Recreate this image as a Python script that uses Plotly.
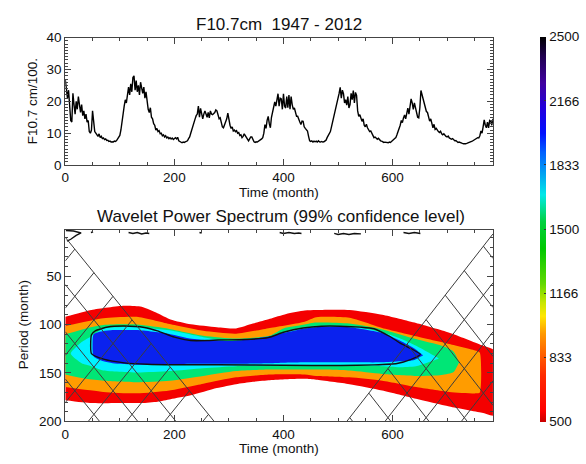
import plotly.graph_objects as go

# ---------------- data: F10.7 monthly series (month index, flux/100 scaled) -------------
f107 = [
    (0, 26.8), (2, 24), (4, 21), (6, 23.5), (8, 19), (10, 14), (12, 13.5), (14, 22.5), (16, 19),
    (18, 16), (20, 20), (22, 17.5), (24, 21.5), (26, 18), (28, 16.5), (30, 19), (32, 15.5),
    (34, 17), (36, 14.5), (38, 16), (40, 13.5), (42, 14), (44, 10.5), (46, 10), (48, 11),
    (50, 17), (52, 12.5), (54, 10.5), (56, 10), (58, 9.5), (60, 9), (62, 9.8), (64, 8.6),
    (66, 9), (68, 8.3), (70, 8.5), (72, 8), (74, 8.2), (76, 7.7), (78, 7.8), (80, 7.4),
    (82, 7.5), (84, 7.2), (86, 7.3), (88, 7.2), (90, 7.5), (92, 7.4), (94, 7.7), (96, 8.2),
    (98, 8.5), (100, 9.3), (102, 11), (104, 14.5), (106, 16), (108, 18.5), (110, 20.5),
    (112, 19.5), (114, 22.5), (116, 24.5), (118, 22), (120, 25.5), (122, 23), (124, 27.5),
    (126, 28), (128, 23.5), (130, 26.5), (132, 23), (134, 25), (136, 22), (138, 26),
    (140, 23.5), (142, 22.5), (144, 24.5), (146, 21), (148, 23), (150, 19.5), (152, 17.5),
    (154, 16.5), (156, 18), (158, 15), (160, 14.5), (162, 13), (164, 12.5), (166, 11),
    (168, 11.5), (170, 10.5), (172, 10.8), (174, 9.8), (176, 10), (178, 9.2), (180, 9.5),
    (182, 8.8), (184, 9.2), (186, 8.5), (188, 8.8), (190, 8.3), (192, 8.6), (194, 8.2),
    (196, 8.5), (198, 8), (200, 8.3), (202, 8.6), (204, 8.2), (206, 8.7), (208, 7.6),
    (210, 7.3), (212, 7.1), (214, 7), (216, 7.2), (218, 7.1), (220, 7.3), (222, 7.5),
    (224, 7.6), (226, 8.3), (228, 8.8), (230, 10), (232, 11.2), (234, 12.5), (236, 14),
    (238, 14.5), (240, 15.5), (242, 16), (244, 18.5), (246, 15), (248, 17.8), (250, 15.5),
    (252, 14.5), (254, 16), (256, 17), (258, 16), (260, 15), (262, 16.5), (264, 14.8),
    (266, 17), (268, 16), (270, 15.8), (272, 16.2), (274, 16.5), (276, 17.3), (278, 17),
    (280, 15.8), (282, 14.5), (284, 14.8), (286, 13), (288, 12), (290, 11.7), (292, 12.5),
    (294, 13.5), (296, 14.5), (298, 16.3), (300, 13.5), (302, 12.5), (304, 11.5), (306, 12),
    (308, 10.7), (310, 11), (312, 10.5), (314, 10.8), (316, 10), (318, 10.2), (320, 9.3),
    (322, 9.5), (324, 8.6), (326, 9), (328, 9.8), (330, 9.2), (332, 8.6), (334, 8),
    (336, 7.6), (338, 8.2), (340, 8.8), (342, 8.8), (344, 7.8), (346, 7.3), (348, 7.1),
    (350, 7.3), (352, 7.2), (354, 7.4), (356, 7.6), (358, 7.8), (360, 8.2), (362, 8.6),
    (364, 10), (366, 12.7), (368, 11.5), (370, 14), (372, 15.3), (374, 13), (376, 11.7),
    (378, 15), (380, 16.8), (382, 18.5), (384, 19.8), (386, 18.5), (388, 21), (390, 22.4),
    (392, 18.5), (394, 21), (396, 20.8), (398, 17.5), (400, 22.4), (402, 18.5), (404, 17.9),
    (406, 21.5), (408, 18), (410, 22), (412, 17.5), (414, 21.5), (416, 19), (418, 17.5),
    (420, 17.9), (422, 16), (424, 15.3), (426, 15.3), (428, 14), (430, 13.5), (432, 12.7),
    (434, 13.8), (436, 13.7), (438, 12), (440, 11.5), (442, 11), (444, 10.7), (446, 9),
    (448, 7.6), (450, 7.4), (452, 7.6), (454, 7.2), (456, 7.5), (458, 7.3), (460, 7.5),
    (462, 7.2), (464, 7.6), (466, 7.3), (468, 7.2), (470, 7.4), (472, 7.2), (474, 7.3),
    (476, 7.5), (478, 7.8), (480, 8.6), (482, 9.2), (484, 9.8), (486, 10.5), (488, 12),
    (490, 13.5), (492, 14.8), (494, 15.7), (496, 18), (498, 19.5), (500, 20.8), (502, 22.5),
    (504, 24.4), (506, 21), (508, 23.5), (510, 22.4), (512, 19.5), (514, 20.5), (516, 18.8),
    (518, 21.5), (520, 17.9), (522, 19), (524, 22.5), (526, 20.5), (528, 23.4), (530, 19.5),
    (532, 22.8), (534, 21.9), (536, 17), (538, 15.3), (540, 15.8), (542, 14.2), (544, 13.7),
    (546, 14.5), (548, 12.5), (550, 12), (552, 12.8), (554, 11.7), (556, 11), (558, 10.5),
    (560, 10.7), (562, 9.8), (564, 9.3), (566, 8.6), (568, 8.8), (570, 8.3), (572, 8.1),
    (574, 8.4), (576, 7.9), (578, 7.6), (580, 7.5), (582, 7.3), (584, 7.1), (586, 7.2),
    (588, 7.1), (590, 7.2), (592, 7), (594, 7.2), (596, 7.1), (598, 7.4), (600, 7.6),
    (602, 8), (604, 8.3), (606, 8.6), (608, 9.5), (610, 10.5), (612, 11), (614, 12.5),
    (616, 14), (618, 13.3), (620, 14.8), (622, 15.7), (624, 14.5), (626, 16.5), (628, 17.9),
    (630, 16), (632, 18.5), (634, 20.8), (636, 19.5), (638, 17.5), (640, 19.5), (642, 17.9),
    (644, 16), (646, 15), (648, 14.8), (650, 18), (652, 23.4), (654, 22), (656, 20.8),
    (658, 19), (660, 18.5), (662, 16.8), (664, 16.5), (666, 15), (668, 13.8), (670, 14.5),
    (672, 12.5), (674, 11.7), (676, 12.8), (678, 11.2), (680, 11.5), (682, 10.8), (684, 10.5),
    (686, 10.2), (688, 10.6), (690, 9.8), (692, 9.5), (694, 9.8), (696, 9.2), (698, 9),
    (700, 8.8), (702, 9.1), (704, 8.5), (706, 8.3), (708, 8.1), (710, 8.3), (712, 7.8),
    (714, 7.6), (716, 7.7), (718, 7.3), (720, 7.1), (722, 7.2), (724, 7), (726, 6.9),
    (728, 6.8), (730, 6.7), (732, 6.6), (734, 6.7), (736, 6.8), (738, 6.9), (740, 7),
    (742, 7.1), (744, 7.3), (746, 7.5), (748, 7.7), (750, 7.9), (752, 8.1), (754, 8.3),
    (756, 8.6), (758, 8.5), (760, 9.2), (762, 10.7), (764, 10), (766, 12), (768, 14.2),
    (770, 12.5), (772, 11.7), (774, 13.5), (776, 11.7), (778, 14), (780, 13.8), (782, 12.5),
    (784, 14.5),
]
f107_month = [m for m, _ in f107]
f107_value = [v for _, v in f107]

# ---------------- data: wavelet power bands (period boundaries vs time) -------------------
red_t   = [0, 48, 108, 140, 169, 193, 230, 278, 313, 344, 375, 405, 439, 460, 521, 581, 643, 704, 764, 790]
red_top = [92, 85, 80.7, 81.7, 88.3, 94.7, 99.7, 102.7, 104, 99, 94, 89, 85.5, 85, 85, 90, 98.5, 108.5, 121.5, 128]
red_bot = [178, 181, 181, 181, 179.6, 177, 173, 165.5, 161.5, 159, 157.5, 156.5, 156, 157, 161.5, 168, 176.5, 184.5, 191, 194]

orange_t   = [0, 70, 131, 191, 253, 313, 375, 439, 460, 521, 581, 643, 704, 753, 760]
orange_top = [101.5, 93.5, 92, 99.5, 106.5, 109.5, 103.5, 97, 92.5, 93, 103.5, 112, 120, 127, 129]
orange_bot = [164.5, 169.5, 171, 168, 161, 154.5, 151.5, 151.5, 153, 154.5, 158, 164.5, 169.5, 171, 170]

green_t   = [0, 38, 70, 131, 191, 253, 313, 375, 400, 439, 460, 521, 581, 643, 690, 712, 722]
green_top = [110, 104, 100.5, 100, 104.5, 111.5, 114.5, 111.5, 104, 100, 98, 99, 105, 115, 122, 128, 139]
green_bot = [151.5, 156, 158, 159.5, 158, 153, 148, 146.5, 146.5, 146.5, 146.5, 147.5, 151, 153, 152, 149, 139]

cyan_t   = [10, 30, 48, 70, 131, 191, 253, 313, 375, 400, 439, 460, 521, 581, 612, 643, 685]
cyan_top = [130, 118, 112, 104, 102.5, 106, 113, 118, 113, 108, 103, 101.5, 101.5, 108, 114, 122, 135]
cyan_bot = [130, 140, 143, 147.5, 149.5, 148, 145, 143, 142.5, 142.5, 142, 142, 142, 143, 144, 143, 135]

blue_t   = [50, 52, 70, 87, 131, 191, 232, 280, 313, 375, 400, 439, 460, 521, 581, 614, 640, 656]
blue_top = [120, 110, 106.7, 105.7, 105.7, 109.7, 114.7, 116.7, 116.7, 112, 108.7, 104, 102.7, 102.7, 108.7, 116.7, 124.7, 131.7]
blue_bot = [125, 133, 138, 140, 141.5, 141, 140.5, 140.5, 140.5, 140, 139.5, 139, 139, 139, 139, 138, 136.5, 131.7]

# 99% confidence contour (closed)
conf_t = [48, 55, 78, 108, 145, 169, 200, 230, 260, 280, 330, 372, 400, 436, 470, 505, 541, 566, 596, 614, 651,
          633, 608, 566, 505, 400, 280, 200, 150, 108, 72, 48, 48]
conf_p = [110.5, 106.5, 102.5, 101.5, 103, 106.5, 113, 116.5, 116.5, 116, 115.5, 113.5, 108, 103.5, 101.7, 101.7, 102.7, 104.3, 112.6, 119.2, 130.7,
          136.2, 140.2, 141.6, 142.3, 142, 141.5, 141.5, 141, 139.5, 136, 130, 110.5]

# small spurious contours near the shortest periods
noise = [
    ([1, 15, 29, 20, 10, 3], [3, 3.5, 5.5, 8, 12, 14]),
    ([47, 51], [5, 4.5]),
    ([116, 124, 132, 140, 148, 154], [5, 6, 5, 6.5, 5.5, 6]),
    ([246, 250], [5, 5.5]),
    ([393, 400, 410, 420, 428, 433], [5, 6, 5, 6, 5.5, 6]),
    ([493, 500, 510, 520, 530, 542], [6, 7, 6, 7, 6, 6.5]),
    ([620, 630, 640, 651], [5, 6, 5, 6]),
]

# cone of influence edges (time, period)
coi_left_t, coi_left_p = [0, 273], [10, 200]
coi_right_t, coi_right_p = [784, 516], [6.5, 200]

band_colors = ['#f40000', '#ff9c00', '#00e676', '#00f2ff', '#0a22ee']
cbar_ticks = [500, 833, 1166, 1500, 1833, 2166, 2500]
cbar_scale = [
    [0.0, '#c80000'], [0.03, '#ff0000'], [0.12, '#ff2a00'], [0.17, '#ff5a00'], [0.23, '#ff9a00'],
    [0.275, '#ffe600'], [0.31, '#c8e600'], [0.36, '#60d800'], [0.45, '#00c800'], [0.52, '#00d040'],
    [0.56, '#00e0a0'], [0.59, '#00e8e8'], [0.64, '#00a8f0'], [0.70, '#0060ff'], [0.75, '#0010ff'],
    [0.81, '#2000e0'], [0.88, '#4000a0'], [0.95, '#200050'], [1.0, '#000000'],
]

XMAX = 784
W, H = 586, 464
FONT = 'Liberation Sans, Arial, Helvetica, sans-serif'
AX = '#444444'

fig = go.Figure()

# top panel line
fig.add_trace(go.Scatter(x=f107_month, y=f107_value, mode='lines',
                         line=dict(color='black', width=1.4), xaxis='x', yaxis='y',
                         hoverinfo='skip', showlegend=False))

# filled bands
bands = [(red_t, red_top, red_bot), (orange_t, orange_top, orange_bot),
         (green_t, green_top, green_bot), (cyan_t, cyan_top, cyan_bot),
         (blue_t, blue_top, blue_bot)]
for (bt, btop, bbot), col in zip(bands, band_colors):
    xs = list(bt) + list(bt)[::-1]
    ys = list(btop) + list(bbot)[::-1]
    fig.add_trace(go.Scatter(x=xs, y=ys, mode='lines', fill='toself', fillcolor=col,
                             line=dict(width=0, shape='spline', smoothing=0.6, color=col),
                             xaxis='x2', yaxis='y2', hoverinfo='skip', showlegend=False))

# confidence contour
fig.add_trace(go.Scatter(x=conf_t, y=conf_p, mode='lines',
                         line=dict(color='#111111', width=1.4, shape='spline', smoothing=0.5),
                         xaxis='x2', yaxis='y2', hoverinfo='skip', showlegend=False))

# noise contours
for nt, np_ in noise:
    fig.add_trace(go.Scatter(x=nt, y=np_, mode='lines', line=dict(color='#111111', width=1.4),
                             xaxis='x2', yaxis='y2', hoverinfo='skip', showlegend=False))


# cone of influence hatching
def clip_line(poly, m, c_t, c_p):
    pts = []
    n = len(poly)
    for i in range(n):
        t1, p1 = poly[i]
        t2, p2 = poly[(i + 1) % n]
        f1 = p1 - c_p - m * (t1 - c_t)
        f2 = p2 - c_p - m * (t2 - c_t)
        if f1 == f2:
            continue
        if (f1 <= 0 <= f2) or (f2 <= 0 <= f1):
            a = f1 / (f1 - f2)
            pts.append((t1 + a * (t2 - t1), p1 + a * (p2 - p1)))
    if len(pts) < 2:
        return None
    pts.sort()
    return pts[0], pts[-1]


hx, hy = [], []
spacing_t = 70.0

def add_hatch(edge_t, edge_p):
    t0, p0 = edge_t[0], edge_p[0]
    t1, p1 = edge_t[1], edge_p[1]
    m = (p1 - p0) / (t1 - t0)  # dp/dt along edge
    poly = [(t0, p0), (t1, p1), (t0, p1)]
    step = abs(m) * spacing_t
    for k in range(0, 30):
        seg = clip_line(poly, m, t0, p0 + k * step)
        if seg:
            hx.extend([seg[0][0], seg[1][0], None]); hy.extend([seg[0][1], seg[1][1], None])
        seg = clip_line(poly, -m, t0, p0 + (k + 0.5) * step)
        if seg:
            hx.extend([seg[0][0], seg[1][0], None]); hy.extend([seg[0][1], seg[1][1], None])

add_hatch(coi_left_t, coi_left_p)
add_hatch(coi_right_t, coi_right_p)

fig.add_trace(go.Scatter(x=hx, y=hy, mode='lines', line=dict(color='#3c3c3c', width=1),
                         xaxis='x2', yaxis='y2', hoverinfo='skip', showlegend=False,
                         connectgaps=False))

# colorbar carrier
fig.add_trace(go.Scatter(x=[-500, -500], y=[100, 100], mode='markers', xaxis='x2', yaxis='y2',
                         marker=dict(size=1, color=[500, 2500], cmin=500, cmax=2500,
                                     colorscale=cbar_scale, showscale=True,
                                     colorbar=dict(x=539.5 / W, xanchor='left', xpad=0, ypad=0,
                                                   y=1 - 229.5 / H, yanchor='middle',
                                                   len=(428.3 - 30.7) / H, lenmode='fraction',
                                                   thickness=6, thicknessmode='pixels',
                                                   outlinewidth=0, tickvals=cbar_ticks,
                                                   ticktext=[str(v) for v in cbar_ticks],
                                                   ticks='inside', ticklen=2, tickcolor='#333',
                                                   tickfont=dict(size=13.5, color='#111', family=FONT))),
                         hoverinfo='skip', showlegend=False))

axis_common = dict(showline=True, linecolor=AX, linewidth=1, mirror='ticks', ticks='inside',
                   ticklen=6, tickcolor=AX, showgrid=False, zeroline=False,
                   tickfont=dict(size=13.5, color='#111', family=FONT))

xdom = [61.7 / W, 492.3 / W]
fig.update_layout(
    width=W, height=H, margin=dict(l=0, r=0, t=0, b=0),
    paper_bgcolor='white', plot_bgcolor='white', showlegend=False,
    font=dict(family=FONT, color='#111'),
    xaxis=dict(domain=xdom, range=[0, XMAX], anchor='y', tickvals=[0, 200, 400, 600],
               minor=dict(tick0=0, dtick=50, ticks='inside', ticklen=3, tickcolor=AX),
               **axis_common),
    yaxis=dict(domain=[1 - 163.3 / H, 1 - 31.7 / H], range=[0, 40], anchor='x',
               tickvals=[0, 10, 20, 30, 40],
               minor=dict(tick0=0, dtick=1, ticks='inside', ticklen=3, tickcolor=AX),
               **axis_common),
    xaxis2=dict(domain=xdom, range=[0, XMAX], anchor='y2', tickvals=[0, 200, 400, 600],
                minor=dict(tick0=0, dtick=50, ticks='inside', ticklen=3, tickcolor=AX),
                **axis_common),
    yaxis2=dict(domain=[1 - 428.3 / H, 1 - 230 / H], range=[200, 2], anchor='x2',
                tickvals=[50, 100, 150, 200],
                minor=dict(tick0=0, dtick=10, ticks='inside', ticklen=3, tickcolor=AX),
                **axis_common),
)

def ann(text, x, y, size, angle=0):
    fig.add_annotation(text=text, x=x / W, y=1 - y / H, xref='paper', yref='paper',
                       showarrow=False, xanchor='center', yanchor='middle', textangle=angle,
                       font=dict(size=size, family=FONT, color='#111'))

ann('F10.7cm \u00a01947 - 2012', 277, 18.3, 17)
ann('Wavelet Power Spectrum (99% confidence level)', 279, 216.7, 17)
ann('Time (month)', 277, 191.7, 13.5)
ann('Time (month)', 277, 456, 13.5)
ann('F10.7 cm/100.', 28.3, 97.4, 13.5, -90)
ann('Period (month)', 20, 328, 13.5, -90)

fig.write_html('out.html')
